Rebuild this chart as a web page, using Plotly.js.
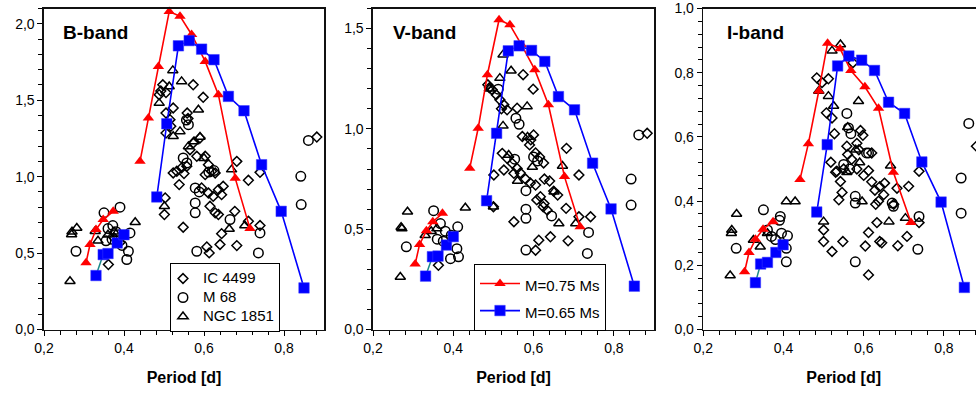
<!DOCTYPE html>
<html><head><meta charset="utf-8">
<script src="https://cdn.plot.ly/plotly-3.0.1.min.js"></script>
<style>html,body{margin:0;padding:0;overflow:hidden;background:#fff}#chart{width:990px;height:394px}</style>
</head><body><div id="chart"></div><script>
// ---------- B-band ----------
const B_IC_P = [0.361,0.375,0.39,0.488,0.497,0.492,0.505,0.505,0.515,0.523,0.505,0.517,0.558,0.573,0.598,0.56,0.59,0.573,0.565,0.582,0.603,0.611,0.619,0.628,0.603,0.523,0.532,0.544,0.557,0.55,0.538,0.682,0.711,0.74,0.503,0.501,0.594,0.611,0.623,0.636,0.648,0.644,0.615,0.628,0.636,0.548,0.677,0.644,0.64,0.682,0.607,0.613,0.711,0.74,0.882];
const B_IC_A = [0.425,0.60,0.57,1.536,1.601,1.56,1.55,1.416,1.373,1.449,1.285,1.33,1.416,1.601,1.519,1.38,1.253,1.22,1.176,1.133,1.133,1.078,1.035,1.024,1.013,1.024,1.035,1.057,1.068,1.02,0.948,1.10,0.976,1.028,0.861,0.752,0.926,0.893,0.871,0.915,0.937,0.882,0.806,0.763,0.752,0.669,0.773,0.627,0.556,0.549,0.540,0.501,0.708,0.68,1.259];
const B_M68_P = [0.28,0.35,0.39,0.407,0.411,0.415,0.36,0.372,0.385,0.395,0.37,0.355,0.38,0.561,0.556,0.548,0.557,0.578,0.588,0.578,0.578,0.665,0.582,0.74,0.736,0.612,0.625,0.861,0.842,0.843];
const B_M68_A = [0.512,0.763,0.80,0.458,0.512,0.632,0.66,0.68,0.62,0.55,0.59,0.58,0.64,1.34,1.37,1.122,1.09,0.926,0.90,0.828,0.763,0.719,0.512,0.632,0.501,1.03,1.04,1.237,1.002,0.817];
const B_NGC_P = [0.269,0.282,0.265,0.428,0.328,0.335,0.36,0.375,0.27,0.522,0.544,0.488,0.513,0.586,0.54,0.523,0.561,0.575,0.59,0.60,0.669,0.501,0.663,0.702];
const B_NGC_A = [0.621,0.664,0.316,0.702,0.643,0.58,0.62,0.64,0.64,1.695,1.623,1.481,1.59,1.438,1.296,1.264,1.198,1.23,1.26,1.12,1.046,0.806,0.658,0.68];
const B_M75_P = [0.305,0.315,0.33,0.348,0.373,null,0.44,0.461,0.486,0.513,0.54,0.569,0.603,0.636,0.678,0.715];
const B_M75_A = [0.436,0.556,0.654,0.719,0.773,null,1.10,1.383,1.72,2.08,2.05,1.93,1.754,1.536,0.99,0.66];
const B_M65_P = [0.33,0.348,0.36,0.383,0.40,null,0.482,0.507,0.536,0.563,0.594,0.625,0.661,0.70,0.744,0.793,0.85];
const B_M65_A = [0.353,0.49,0.497,0.566,0.62,null,0.867,1.346,1.856,1.89,1.834,1.765,1.525,1.431,1.078,0.773,0.272];
// ---------- V-band ----------
const V_IC_P = [0.363,0.486,0.497,0.507,0.516,0.526,0.534,0.559,0.574,0.599,0.49,0.52,0.593,0.572,0.60,0.59,0.605,0.615,0.625,0.522,0.534,0.547,0.559,0.551,0.567,0.58,0.592,0.605,0.617,0.626,0.634,0.627,0.64,0.526,0.682,0.713,0.742,0.713,0.501,0.5,0.551,0.613,0.605,0.642,0.686,0.65,0.66,0.681,0.624,0.608,0.883];
const V_IC_A = [0.32,1.22,1.195,1.17,1.145,1.12,1.095,1.103,1.27,1.198,1.205,1.10,0.945,0.962,0.97,0.92,0.88,0.86,0.83,0.878,0.853,0.828,0.803,0.778,0.78,0.75,0.73,0.72,0.662,0.628,0.595,0.75,0.74,0.795,0.903,0.77,0.562,0.562,0.77,0.612,0.537,0.445,0.395,0.462,0.442,0.69,0.67,0.604,0.612,0.646,0.978];
const V_M68_P = [0.283,0.351,0.411,0.409,0.413,0.393,0.368,0.38,0.395,0.36,0.375,0.512,0.556,0.564,0.553,0.581,0.581,0.581,0.581,0.645,0.737,0.734,0.60,0.61,0.843,0.843,0.862];
const V_M68_A = [0.412,0.592,0.512,0.403,0.362,0.353,0.528,0.49,0.47,0.45,0.44,1.198,1.053,1.023,0.849,0.692,0.6,0.554,0.396,0.566,0.484,0.379,0.86,0.84,0.75,0.62,0.97];
const V_NGC_P = [0.286,0.272,0.27,0.268,0.43,0.33,0.359,0.345,0.524,0.544,0.516,0.584,0.524,0.672,0.597,0.538,0.50,0.663,0.705,0.651,0.49,0.56,0.585];
const V_NGC_A = [0.587,0.503,0.51,0.262,0.607,0.47,0.503,0.49,1.37,1.29,1.253,1.112,1.015,0.815,0.81,0.87,0.612,0.528,0.528,0.687,1.2,0.74,0.96];
const V_M75_P = [0.305,0.316,0.333,0.349,0.373,null,0.441,0.462,0.485,0.514,0.541,0.57,0.603,0.637,0.677,0.716];
const V_M75_A = [0.326,0.424,0.492,0.537,0.579,null,0.804,1.003,1.27,1.544,1.519,1.419,1.295,1.12,0.762,0.512];
const V_M65_P = [0.331,0.348,0.362,0.383,0.40,null,0.483,0.508,0.537,0.564,0.595,0.628,0.662,0.702,0.747,0.793,0.851];
const V_M65_A = [0.266,0.363,0.366,0.421,0.463,null,0.642,0.978,1.389,1.414,1.391,1.336,1.161,1.095,0.829,0.601,0.216];
// ---------- I-band ----------
const I_IC_P = [0.573,0.483,0.496,0.512,0.507,0.521,0.527,0.518,0.533,0.542,0.546,0.538,0.558,0.56,0.57,0.592,0.598,0.583,0.588,0.583,0.60,0.612,0.62,0.628,0.64,0.652,0.637,0.65,0.63,0.683,0.712,0.738,0.5,0.5,0.521,0.548,0.612,0.633,0.604,0.64,0.645,0.685,0.708,0.738,0.612,0.53,0.55,0.62,0.675,0.881];
const I_IC_A = [0.831,0.784,0.769,0.781,0.675,0.659,0.61,0.521,0.493,0.461,0.427,0.404,0.571,0.545,0.53,0.62,0.605,0.58,0.56,0.5,0.48,0.495,0.46,0.434,0.445,0.456,0.4,0.42,0.39,0.44,0.446,0.493,0.31,0.274,0.243,0.274,0.302,0.333,0.26,0.274,0.27,0.261,0.29,0.333,0.17,0.49,0.5,0.55,0.39,0.571];
const I_M68_P = [0.282,0.35,0.392,0.39,0.41,0.407,0.407,0.37,0.38,0.36,0.395,0.558,0.562,0.568,0.612,0.55,0.565,0.579,0.579,0.671,0.674,0.738,0.735,0.579,0.607,0.862,0.843,0.843];
const I_M68_A = [0.253,0.373,0.352,0.34,0.292,0.253,0.211,0.29,0.28,0.31,0.3,0.673,0.628,0.61,0.55,0.514,0.5,0.415,0.394,0.394,0.384,0.352,0.25,0.211,0.55,0.642,0.472,0.3625];
const I_NGC_P = [0.283,0.271,0.27,0.267,0.407,0.429,0.342,0.325,0.36,0.542,0.521,0.512,0.525,0.587,0.667,0.5,0.663,0.704,0.488,0.596,0.558,0.56,0.59,0.58];
const I_NGC_A = [0.36,0.31,0.30,0.168,0.399,0.399,0.258,0.279,0.3,0.888,0.868,0.727,0.696,0.711,0.51,0.336,0.336,0.347,0.743,0.399,0.49,0.63,0.52,0.56];
const I_M75_P = [0.303,0.314,0.33,0.349,0.374,null,0.441,0.462,0.488,0.51,0.541,0.568,0.603,0.637,0.674,0.718];
const I_M75_A = [0.18,0.24,0.281,0.3125,0.336,null,0.467,0.579,0.743,0.892,0.875,0.807,0.756,0.689,0.49,0.333];
const I_M65_P = [0.33,0.343,0.36,0.381,0.399,null,0.483,0.509,0.535,0.563,0.595,0.627,0.662,0.702,0.745,0.793,0.851];
const I_M65_A = [0.146,0.204,0.209,0.24,0.264,null,0.366,0.576,0.821,0.852,0.839,0.807,0.708,0.673,0.522,0.397,0.131];

const BAND_LABELS = ['B-band','V-band','I-band'];
const SERIES_NAMES = ['IC 4499','M 68','NGC 1851','M=0.75 Ms','M=0.65 Ms'];
const X_TITLE = 'Period [d]';

const FONT = 'Liberation Sans, Arial, Helvetica, sans-serif';
const W = 990, H = 394;
const big = s => '<span style="font-size:15px">' + s + '</span>';

const panels = [
  {ic:[B_IC_P,B_IC_A], m68:[B_M68_P,B_M68_A], ngc:[B_NGC_P,B_NGC_A], m75:[B_M75_P,B_M75_A], m65:[B_M65_P,B_M65_A]},
  {ic:[V_IC_P,V_IC_A], m68:[V_M68_P,V_M68_A], ngc:[V_NGC_P,V_NGC_A], m75:[V_M75_P,V_M75_A], m65:[V_M65_P,V_M65_A]},
  {ic:[I_IC_P,I_IC_A], m68:[I_M68_P,I_M68_A], ngc:[I_NGC_P,I_NGC_A], m75:[I_M75_P,I_M75_A], m65:[I_M65_P,I_M65_A]}
];

const traces = [];
panels.forEach((p, i) => {
  const xa = i === 0 ? 'x' : 'x' + (i + 1);
  const ya = i === 0 ? 'y' : 'y' + (i + 1);
  const openM = (sym, size) => ({symbol: sym, size: size, color: '#000', line: {color: '#000', width: 1.5}});
  traces.push({type:'scatter', mode:'markers', x:p.ic[0], y:p.ic[1], xaxis:xa, yaxis:ya, name:big(SERIES_NAMES[0]),
    marker: openM('diamond-open', 7.5), showlegend: i === 0, legend:'legend'});
  traces.push({type:'scatter', mode:'markers', x:p.m68[0], y:p.m68[1], xaxis:xa, yaxis:ya, name:big(SERIES_NAMES[1]),
    marker: openM('circle-open', 9.5), showlegend: i === 0, legend:'legend'});
  traces.push({type:'scatter', mode:'markers', x:p.ngc[0], y:p.ngc[1], xaxis:xa, yaxis:ya, name:big(SERIES_NAMES[2]),
    marker: openM('triangle-up-open', 9), showlegend: i === 0, legend:'legend'});
  traces.push({type:'scatter', mode:'lines', x:p.m65[0].slice(0,2), y:p.m65[1].slice(0,2), xaxis:xa, yaxis:ya,
    line:{color:'#1a8a8a', width:1.5}, showlegend:false, hoverinfo:'skip'});
  traces.push({type:'scatter', mode:'lines+markers', x:p.m75[0], y:p.m75[1], xaxis:xa, yaxis:ya, name:big(SERIES_NAMES[3]),
    line:{color:'#ff0000', width:1.6}, marker:{symbol:'triangle-up', size:10, color:'#ff0000'},
    cliponaxis:false, connectgaps:false, showlegend: i === 1, legend:'legend2'});
  const bx = [p.m65[0][0], null].concat(p.m65[0].slice(1));
  const by = [p.m65[1][0], null].concat(p.m65[1].slice(1));
  traces.push({type:'scatter', mode:'lines+markers', x:bx, y:by, xaxis:xa, yaxis:ya, name:big(SERIES_NAMES[4]),
    line:{color:'#0000ff', width:1.6}, marker:{symbol:'square', size:10.5, color:'#0000ff', line:{color:'#3a3aff', width:0.5}},
    cliponaxis:false, connectgaps:false, showlegend: i === 1, legend:'legend2'});
});

const tickFont = {family: FONT, size: 14, color: '#000'};
function xAxis(d0, d1, anchor) {
  return {domain:[d0/W, d1/W], anchor:anchor, range:[0.2, 0.9], tick0:0.2, dtick:0.2, tickformat:'.1f',
    ticks:'outside', ticklen:5, tickwidth:1, tickcolor:'#000',
    minor:{tick0:0.2, dtick:0.04, ticks:'outside', ticklen:4, tickwidth:1, tickcolor:'#000'},
    showline:true, mirror:true, linecolor:'#111', linewidth:1.6, showgrid:false, zeroline:false,
    tickfont: tickFont, fixedrange:true, automargin:false,
    title:{text:'<b>' + X_TITLE + '</b>', standoff:17, font:{family:FONT, size:16, color:'#000'}}};
}
const yDom = [1 - 329.5/H, 1 - 8.5/H];
function yAxis(maxv, dt, mdt, anchor) {
  return {domain:yDom, anchor:anchor, range:[0, maxv], tick0:0, dtick:dt, tickformat:'.1f',
    ticks:'outside', ticklen:5, tickwidth:1, tickcolor:'#000',
    minor:{tick0:0, dtick:mdt, ticks:'outside', ticklen:4, tickwidth:1, tickcolor:'#000'},
    showline:true, mirror:true, linecolor:'#111', linewidth:1.6, showgrid:false, zeroline:false,
    tickfont: tickFont, fixedrange:true, automargin:false};
}

const bandAnn = (txt, px) => ({text:'<b>' + txt + '</b>', xref:'paper', yref:'paper', x:px/W, y:1 - 32/H,
  xanchor:'left', yanchor:'middle', showarrow:false, font:{family:FONT, size:19, color:'#000'}});

const layout = {
  width: W, height: H,
  margin: {l:0, r:0, t:0, b:0},
  paper_bgcolor:'#fff', plot_bgcolor:'#fff',
  separators: ',.',
  font: {family: FONT, color:'#000'},
  xaxis: xAxis(44, 324, 'y'),
  xaxis2: xAxis(373, 654, 'y2'),
  xaxis3: xAxis(703.3, 984, 'y3'),
  yaxis: yAxis(2.1, 0.5, 0.1, 'x'),
  yaxis2: yAxis(1.6, 0.5, 0.1, 'x2'),
  yaxis3: yAxis(1.0, 0.2, 0.04, 'x3'),
  legend: {x:170/W, y:1 - 263/H, xanchor:'left', yanchor:'top', bgcolor:'#fff', bordercolor:'#000', borderwidth:1,
    font:{family:FONT, size:12, color:'#000'}, traceorder:'normal', itemwidth:30, tracegroupgap:0, indentation:-8},
  legend2: {x:474/W, y:1 - 264/H, xanchor:'left', yanchor:'top', bgcolor:'#fff', bordercolor:'#000', borderwidth:1,
    font:{family:FONT, size:18.5, color:'#000'}, traceorder:'normal', itemwidth:40, tracegroupgap:0},
  annotations: [bandAnn(BAND_LABELS[0], 61), bandAnn(BAND_LABELS[1], 391), bandAnn(BAND_LABELS[2], 725)],
  showlegend: true
};

Plotly.newPlot('chart', traces, layout, {staticPlot:true, displayModeBar:false});
</script></body></html>
